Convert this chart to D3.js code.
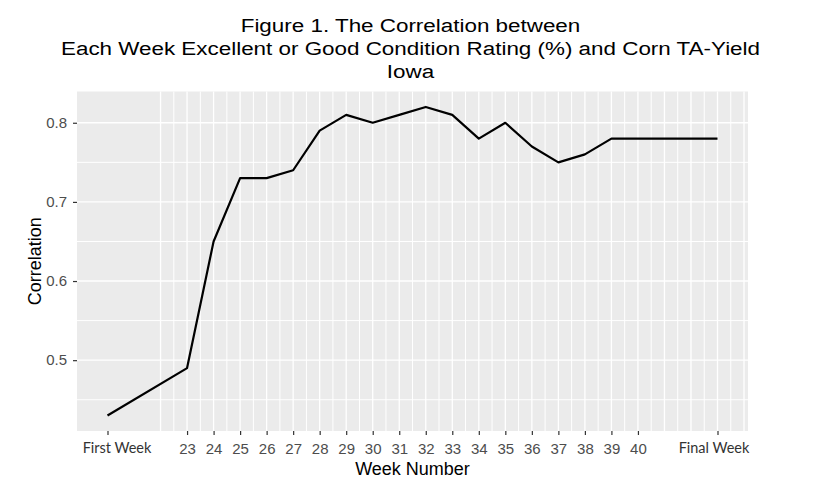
<!DOCTYPE html>
<html>
<head>
<meta charset="utf-8">
<script src="https://cdn.jsdelivr.net/npm/d3@7"></script>
<style>
  html, body { margin: 0; padding: 0; background: #fff; }
  svg { display: block; }
</style>
</head>
<body>
<svg id="chart" width="832" height="493"></svg>
<script>
// ---- data ----
const titleLines = [
  "Figure 1. The Correlation between",
  "Each Week Excellent or Good Condition Rating (%) and Corn TA-Yield",
  "Iowa"
];
const weekLabels = ["First Week", "23", "24", "25", "26", "27", "28", "29", "30", "31", "32",
                    "33", "34", "35", "36", "37", "38", "39", "40", "Final Week"];
const weekNumbers = [20, 23, 24, 25, 26, 27, 28, 29, 30, 31, 32, 33, 34, 35, 36, 37, 38, 39, 40, 43];
const correlation = [0.43, 0.49, 0.65, 0.73, 0.73, 0.74, 0.79, 0.81, 0.80, 0.81, 0.82,
                     0.81, 0.78, 0.80, 0.77, 0.75, 0.76, 0.78, 0.78, 0.78];
const yTicks = [0.5, 0.6, 0.7, 0.8];
const yMinor = [0.45, 0.55, 0.65, 0.75];
const xGridStart = 22, xGridEnd = 44, xGridStep = 0.5;

// ---- layout ----
const svg = d3.select("#chart");
const panel = { left: 77, right: 748, top: 91.5, bottom: 431 };

const xMin = d3.min(weekNumbers), xMax = d3.max(weekNumbers);
const xPad = (xMax - xMin) * 0.05;
const x = d3.scaleLinear().domain([xMin - xPad, xMax + xPad]).range([panel.left, panel.right]);
const yMinV = d3.min(correlation), yMaxV = d3.max(correlation);
const yPad = (yMaxV - yMinV) * 0.05;
const y = d3.scaleLinear().domain([yMinV - yPad, yMaxV + yPad]).range([panel.bottom, panel.top]);

// panel background
svg.append("rect")
  .attr("x", panel.left).attr("y", panel.top)
  .attr("width", panel.right - panel.left).attr("height", panel.bottom - panel.top)
  .attr("fill", "#EBEBEB");

// horizontal grid
const g = svg.append("g");
g.selectAll(".hminor").data(yMinor).join("line")
  .attr("x1", panel.left).attr("x2", panel.right)
  .attr("y1", d => y(d)).attr("y2", d => y(d))
  .attr("stroke", "#fff").attr("stroke-width", 1);
g.selectAll(".hmajor").data(yTicks).join("line")
  .attr("x1", panel.left).attr("x2", panel.right)
  .attr("y1", d => y(d)).attr("y2", d => y(d))
  .attr("stroke", "#fff").attr("stroke-width", 1.4);

// vertical grid
const vGrid = d3.range(xGridStart, xGridEnd + 0.001, xGridStep);
g.selectAll(".v").data(vGrid).join("line")
  .attr("x1", d => x(d)).attr("x2", d => x(d))
  .attr("y1", panel.top).attr("y2", panel.bottom)
  .attr("stroke", "#fff").attr("stroke-width", d => Number.isInteger(d) ? 1.3 : 1);

// line
const line = d3.line().x((d, i) => x(weekNumbers[i])).y(d => y(d));
svg.append("path")
  .datum(correlation)
  .attr("d", line)
  .attr("fill", "none")
  .attr("stroke", "#000")
  .attr("stroke-width", 2.2)
  .attr("stroke-linejoin", "round");

// x axis
const xAxis = d3.axisBottom(x)
  .tickValues(weekNumbers)
  .tickFormat((d, i) => weekLabels[i])
  .tickSize(4).tickPadding(8);
const xa = svg.append("g").attr("transform", `translate(0,${panel.bottom})`).call(xAxis);
xa.select(".domain").remove();
xa.selectAll(".tick line").attr("stroke", "#333").attr("stroke-width", 1.2);
xa.selectAll(".tick text")
  .attr("fill", "#4d4d4d")
  .style("font-family", "'Liberation Sans', Arial, sans-serif")
  .style("font-size", "15px");
xa.selectAll(".tick text").filter((d, i) => isNaN(+weekLabels[i]))
  .attr("fill", "#333")
  .attr("dx", (d, i, n) => (d === xMin ? 9 : -4))
  .style("font-family", "Lato, 'Open Sans', sans-serif")
  .style("font-size", "14.5px");

// y axis
const yAxis = d3.axisLeft(y).tickValues(yTicks).tickFormat(d3.format(".1f")).tickSize(4).tickPadding(6);
const ya = svg.append("g").attr("transform", `translate(${panel.left},0)`).call(yAxis);
ya.select(".domain").remove();
ya.selectAll(".tick line").attr("stroke", "#333").attr("stroke-width", 1.2);
ya.selectAll(".tick text")
  .attr("fill", "#4d4d4d")
  .style("font-family", "'Liberation Sans', Arial, sans-serif")
  .style("font-size", "15px");

// axis titles
svg.append("text")
  .attr("x", (panel.left + panel.right) / 2).attr("y", 475)
  .attr("text-anchor", "middle")
  .style("font-family", "'Liberation Sans', Arial, sans-serif")
  .style("font-size", "18px").attr("fill", "#000")
  .text("Week Number");
svg.append("text")
  .attr("transform", `translate(41,${(panel.top + panel.bottom) / 2}) rotate(-90)`)
  .attr("text-anchor", "middle")
  .style("font-family", "'Liberation Sans', Arial, sans-serif")
  .style("font-size", "18px").attr("fill", "#000")
  .text("Correlation");

// title (slightly widened, as in the reference)
const titleCx = (panel.left + panel.right) / 2 - 2;
svg.append("g")
  .attr("transform", `translate(${titleCx},0) scale(1.18,1)`)
  .selectAll("text").data(titleLines).join("text")
  .attr("x", 0)
  .attr("y", (d, i) => 32 + i * 23)
  .attr("text-anchor", "middle")
  .style("font-family", "'Liberation Sans', Arial, sans-serif")
  .style("font-size", "19px").attr("fill", "#000")
  .text(d => d);
</script>
</body>
</html>
